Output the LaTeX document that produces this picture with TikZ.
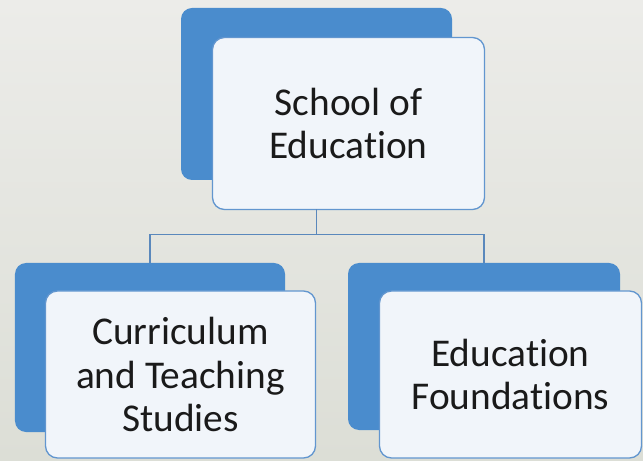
\documentclass[tikz,border=0pt]{standalone}
\usepackage{fontspec}
\setmainfont{Carlito}[Ligatures=NoCommon]
\usetikzlibrary{calc}
\definecolor{bgtop}{HTML}{ECECE9}
\definecolor{bgbot}{HTML}{DCDED6}
\definecolor{boxblue}{HTML}{4A8CCD}
\definecolor{boxfill}{HTML}{F1F5FA}
\definecolor{boxline}{HTML}{6296CF}
\definecolor{linkcol}{HTML}{5A88BC}
\definecolor{txt}{HTML}{1A1A1A}
\tikzset{
  backbox/.style={fill=boxblue, rounded corners=11bp, inner sep=0pt, outer sep=0pt},
  frontbox/.style={fill=boxfill, draw=boxline, line width=1.3bp, rounded corners=12bp,
     inner sep=0pt, outer sep=0pt, align=center, text=txt,
     font=\fontsize{39.5}{44}\selectfont},
  link/.style={draw=linkcol, line width=1.6bp}
}
\begin{document}
\begin{tikzpicture}[x=1bp, y=-1bp]
\useasboundingbox (0,0) rectangle (643,461);
\shade[top color=bgtop, bottom color=bgbot] (0,0) rectangle (643,461);
% top
\node[backbox, minimum width=271bp, minimum height=172bp] (tb) at (316.5,94) {};
\node[frontbox, minimum width=272bp, minimum height=172bp] (tw) at (348.5,123.5) {School of\\Education};
% left
\node[backbox, minimum width=270bp, minimum height=169bp] (lb) at (150,347.5) {};
\node[frontbox, minimum width=270bp, minimum height=167bp] (lw) at (180.5,374.5) {Curriculum\\and Teaching\\Studies};
% right
\node[backbox, minimum width=272bp, minimum height=167bp] (rb) at (484,346.5) {};
\node[frontbox, minimum width=262bp, minimum height=167bp] (rw) at (510.5,374.5) {Education\\Foundations};
% connectors
\coordinate (hub) at ($(tb.south |- tw.south)+(0,25)$);
\draw[link] (tb.south |- tw.south) -- (hub);
\draw[link] (hub) -| (lb.north);
\draw[link] (hub) -| (rb.north);
\end{tikzpicture}
\end{document}
